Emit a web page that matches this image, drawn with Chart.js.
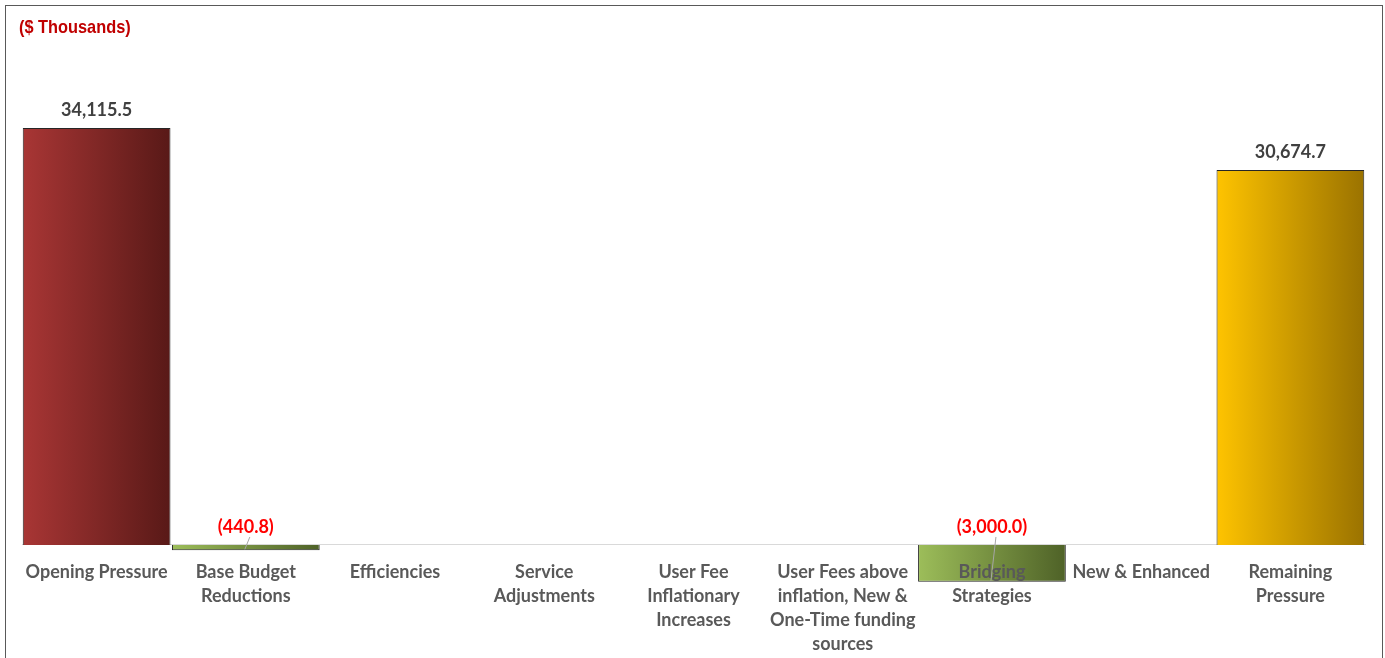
<!DOCTYPE html>
<html>
<head>
<meta charset="utf-8">
<script src="https://cdn.jsdelivr.net/npm/chart.js@4.4.1/dist/chart.umd.min.js"></script>
<style>
  html, body { margin: 0; padding: 0; background: #fff; }
  #wrap { position: relative; width: 1385px; height: 658px; overflow: hidden; }
  #frame { position: absolute; left: 5px; top: 5px; width: 1376px; height: 700px; border: 1px solid #595959; pointer-events: none; }
  canvas { position: absolute; left: 0; top: 0; }
</style>
</head>
<body>
<div id="wrap">
  <canvas id="chart" width="1385" height="658"></canvas>
  <div id="frame"></div>
</div>
<script>
// data ($ thousands)
const categories = [
  ['Opening Pressure'],
  ['Base Budget', 'Reductions'],
  ['Efficiencies'],
  ['Service', 'Adjustments'],
  ['User Fee', 'Inflationary', 'Increases'],
  ['User Fees above', 'inflation, New &', 'One-Time funding', 'sources'],
  ['Bridging', 'Strategies'],
  ['New & Enhanced'],
  ['Remaining', 'Pressure'],
];
const values = [34115.5, -440.8, null, null, null, null, -3000.0, null, 30674.7];

const RED = ['#A93635', '#581917'];
const GREEN = ['#9DBE5A', '#4E6127'];
const GOLD = ['#FFC400', '#9A7200'];

function fmt(v) {
  const s = Math.abs(v).toLocaleString('en-US', { minimumFractionDigits: 1, maximumFractionDigits: 1 });
  return v < 0 ? '(' + s + ')' : s;
}

function barFill(c) {
  const chart = c.chart;
  const area = chart.chartArea;
  const i = c.dataIndex;
  const pair = i === 0 ? RED : (i === values.length - 1 ? GOLD : GREEN);
  if (!area || !chart.scales.x) return pair[0];
  const x = chart.scales.x.getPixelForValue(i);
  const half = (area.right - area.left) / values.length / 2;
  const g = chart.ctx.createLinearGradient(x - half, 0, x + half, 0);
  g.addColorStop(0, pair[0]);
  g.addColorStop(1, pair[1]);
  return g;
}

const valueLabels = {
  id: 'valueLabels',
  afterDatasetsDraw(chart) {
    const ctx = chart.ctx;
    const meta = chart.getDatasetMeta(0);
    meta.data.forEach((bar, i) => {
      const v = values[i];
      if (v == null) return;
      const top = Math.min(bar.y, bar.base);
      const ly = top - 18;
      ctx.save();
      ctx.font = 'bold 18px Lato';
      ctx.textAlign = 'center';
      ctx.textBaseline = 'middle';
      ctx.fillStyle = v < 0 ? '#FF0000' : '#404040';
      ctx.fillText(fmt(v), bar.x, ly);
      if (v < 0) {
        ctx.strokeStyle = '#A6A6A6';
        ctx.lineWidth = 1;
        ctx.beginPath();
        ctx.moveTo(bar.x + 4, ly + 10);
        ctx.lineTo(bar.x - 1, bar.y - 1);
        ctx.stroke();
      }
      ctx.restore();
    });
  }
};

const unitTitle = {
  id: 'unitTitle',
  afterDraw(chart) {
    const ctx = chart.ctx;
    ctx.save();
    ctx.font = 'bold 19px "Liberation Sans", sans-serif';
    ctx.fillStyle = '#C00000';
    ctx.textAlign = 'left';
    ctx.textBaseline = 'middle';
    ctx.translate(19, 28);
    ctx.scale(0.86, 1);
    ctx.fillText('($ Thousands)', 0, 0);
    ctx.restore();
  }
};

new Chart(document.getElementById('chart'), {
  type: 'bar',
  data: {
    labels: categories,
    datasets: [{
      data: values,
      backgroundColor: barFill,
      borderColor: '#262626',
      borderWidth: 1,
      barPercentage: 1,
      categoryPercentage: 0.99,
    }],
  },
  options: {
    responsive: false,
    animation: false,
    layout: { padding: { top: 56, bottom: 3, left: 22, right: 20 } },
    plugins: { legend: { display: false }, tooltip: { enabled: false } },
    scales: {
      x: {
        position: { y: 0 },
        offset: true,
        z: 1,
        grid: { display: false },
        border: { display: true, color: '#D9D9D9', width: 1 },
        ticks: {
          z: 1,
          color: '#595959',
          padding: 7,
          maxRotation: 0,
          autoSkip: false,
          font: { family: 'Lato', size: 18, weight: 'bold', lineHeight: 1.333 },
        },
      },
      y: { display: false, min: -9000, max: 40000 },
    },
  },
  plugins: [valueLabels, unitTitle],
});
</script>
</body>
</html>
